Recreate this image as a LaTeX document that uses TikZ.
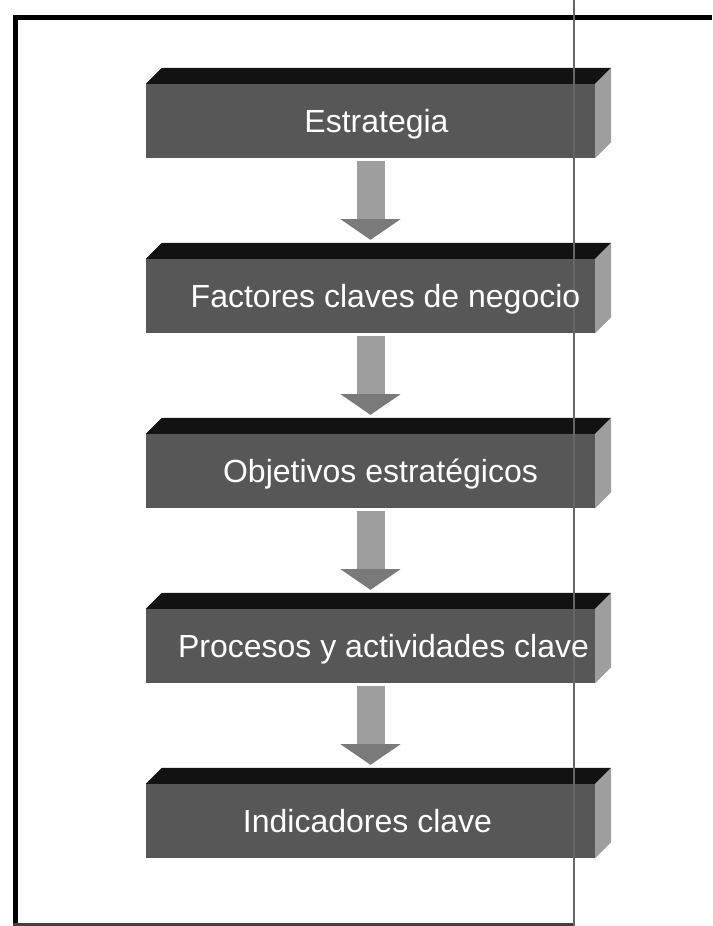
\documentclass[tikz,border=0pt]{standalone}
\usepackage{fontspec}
\setmainfont{Liberation Sans}
\usetikzlibrary{calc}
\begin{document}
\begin{tikzpicture}[x=1pt,y=1pt,
  frontface/.style={rectangle, fill=black!66, minimum width=449pt, minimum height=74pt, inner sep=0pt},
  topface/.style={fill=black!93},
  sideface/.style={fill=black!38},
  boxtext/.style={text=white, font=\fontsize{32}{38}\selectfont, inner sep=0pt, anchor=base},
  flowshaft/.style={fill=black!38},
  flowhead/.style={fill=black!52},
  framerule/.style={line width=5pt, black}]
\useasboundingbox (0,0) rectangle (712,-926);
\fill[white] (0,0) rectangle (712,-926);

% outer frame
\draw[framerule] (15,-926) -- (15,-17) -- (712,-17);
\draw[line width=3pt, black!75] (13,-924.5) -- (574,-924.5);

% the five stages, front faces
\node[frontface] (b1) at (370.5,-121) {};
\node[frontface] (b2) at (370.5,-296) {};
\node[frontface] (b3) at (370.5,-471) {};
\node[frontface] (b4) at (370.5,-646) {};
\node[frontface] (b5) at (370.5,-821) {};

% top and side faces of each block
\foreach \b in {b1,b2,b3,b4,b5}{
  \fill[topface] (\b.north west) -- (\b.north east) -- ($(\b.north east)+(16,16)$)
    -- ($(\b.north west)+(16,16)$) -- cycle;
  \fill[sideface] (\b.north east) -- ($(\b.north east)+(16,16)$)
    -- ($(\b.south east)+(16,16)$) -- (\b.south east) -- cycle;
}

% block arrows between consecutive stages
\foreach \a/\b in {b1/b2,b2/b3,b3/b4,b4/b5}{
  \fill[flowshaft] ($(\a.south)+(-14,-3)$) rectangle ($(\a.south)+(14,-62)$);
  \fill[flowhead] ($(\a.south)+(-30,-61)$) -- ($(\a.south)+(30,-61)$)
    -- ($(\b.north)+(0,19)$) -- cycle;
}

% thin vertical rule across the page
\draw[black!60, line width=1.3pt] (574,0) -- (574,-926);

% labels
\node[boxtext] (l1) at ($(b1.center)+(6,-11.5)$) {Estrategia};
\node[boxtext] (l2) at ($(b2.center)+(15,-11.5)$) {Factores claves de negocio};
\node[boxtext] (l3) at ($(b3.center)+(10,-11.5)$) {Objetivos estratégicos};
\node[boxtext] (l4) at ($(b4.center)+(13,-11.5)$) {Procesos y actividades clave};
\node[boxtext] (l5) at ($(b5.center)+(-3,-11.5)$) {Indicadores clave};
\end{tikzpicture}
\end{document}
